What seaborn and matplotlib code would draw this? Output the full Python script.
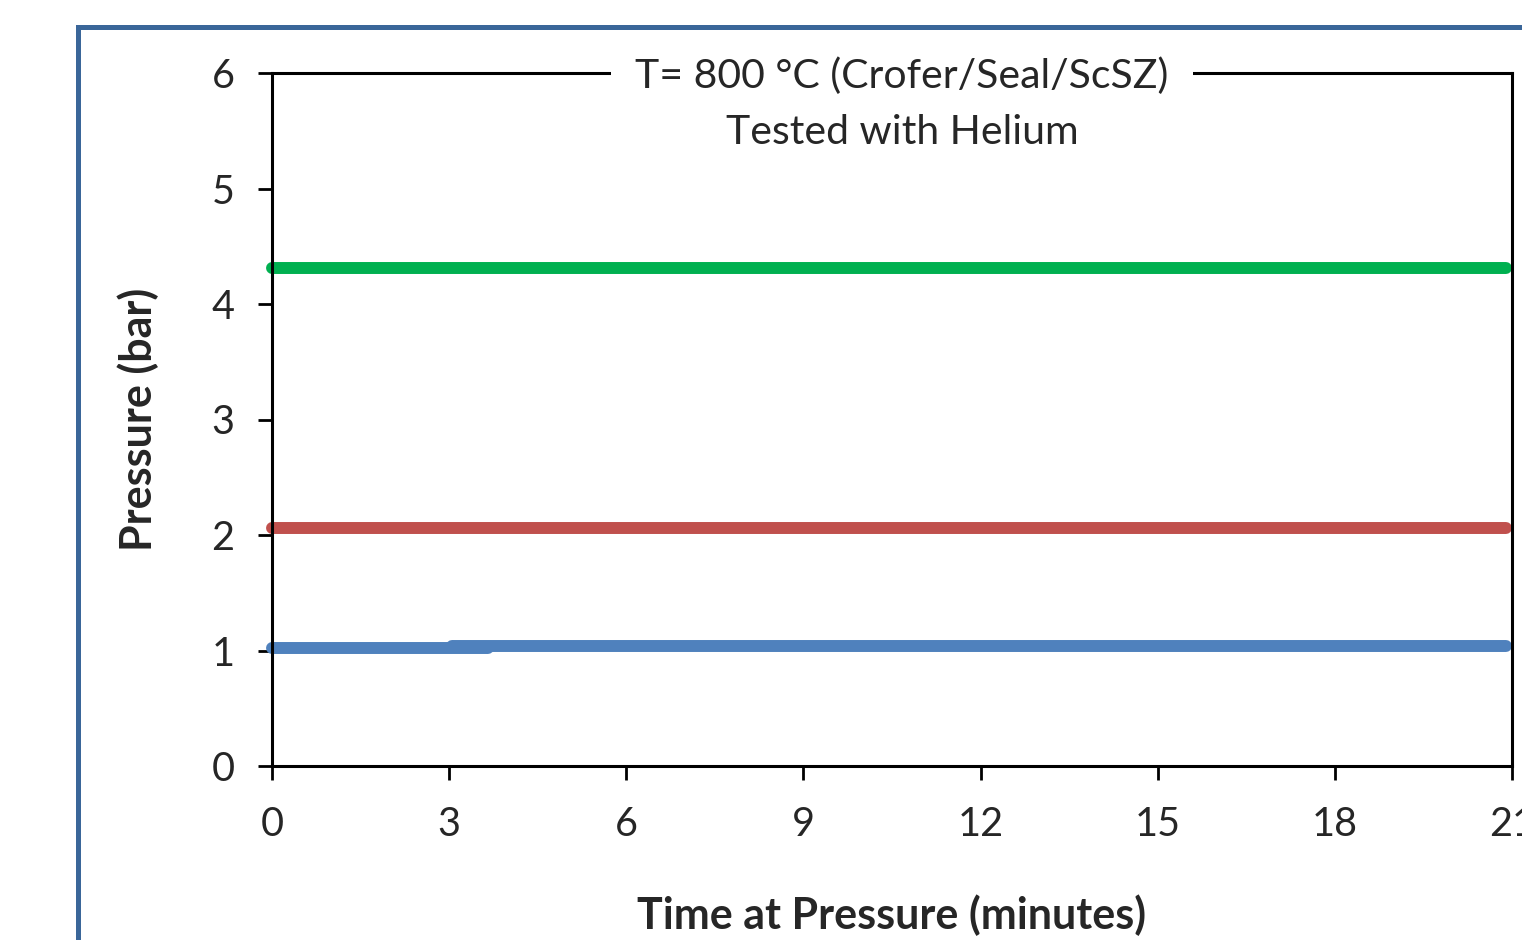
import matplotlib
matplotlib.use("Agg")
import matplotlib.pyplot as plt
from matplotlib.patches import Rectangle
import pandas as pd
import seaborn as sns

# series (time in minutes, pressure in bar)
green_time = [0.0, 20.9]
green_pressure = [4.31, 4.31]
red_time = [0.0, 20.9]
red_pressure = [2.06, 2.06]
blue_time_a = [0.0, 3.65]
blue_pressure_a = [1.025, 1.025]
blue_time_b = [3.05, 20.9]
blue_pressure_b = [1.04, 1.04]

x_ticks = [0, 3, 6, 9, 12, 15, 18, 21]
y_ticks = [0, 1, 2, 3, 4, 5, 6]

title_line1 = "T= 800 °C (Crofer/Seal/ScSZ)"
title_line2 = "Tested with Helium"

sns.set_theme(style="white")
plt.rcParams["font.family"] = ["Lato", "DejaVu Sans"]

fig = plt.figure(figsize=(15.22, 9.40), dpi=100)
ax = fig.add_axes([272 / 1522, 1 - 766 / 940, 1240 / 1522, 693 / 940])

series = [
    (green_time, green_pressure, "#00B050"),
    (red_time, red_pressure, "#C0504D"),
    (blue_time_a, blue_pressure_a, "#4F81BD"),
    (blue_time_b, blue_pressure_b, "#4F81BD"),
]
for times, pressures, color in series:
    df = pd.DataFrame({"time": times, "pressure": pressures})
    sns.lineplot(data=df, x="time", y="pressure", ax=ax, color=color,
                 linewidth=8.6, solid_capstyle="round", clip_on=False)

ax.set_xlim(0, 21)
ax.set_ylim(0, 6)
ax.set_xticks(x_ticks)
ax.set_yticks(y_ticks)
ax.tick_params(axis="both", direction="out", length=10, width=2, color="black",
               labelsize=28.5, pad=17, bottom=True, left=True)
ax.tick_params(axis="x", pad=19)
for spine in ax.spines.values():
    spine.set_color("black")
    spine.set_linewidth(2.2)

ax.set_xlabel("Time at Pressure (minutes)", fontsize=31, fontweight="bold", labelpad=37)
ax.set_ylabel("Pressure (bar)", fontsize=31, fontweight="bold", labelpad=38)

title_x = (902 - 272) / 1240
ax.text(title_x, (766 - 76) / 693, title_line1, transform=ax.transAxes, ha="center", va="center",
        fontsize=29.5, zorder=5,
        bbox=dict(facecolor="white", edgecolor="none", boxstyle="square,pad=0.6"))
ax.text(title_x, (766 - 133) / 693, title_line2, transform=ax.transAxes, ha="center", va="center",
        fontsize=29.5, zorder=5)

# border around the whole chart area (cut off at right and bottom)
fig.patches.append(Rectangle((78 / 1522, -0.5), 2.0, 0.5 + (1 - 27 / 940), transform=fig.transFigure,
                             fill=False, edgecolor="#3A6699", linewidth=3.6))

fig.savefig("out.png", dpi=100)
